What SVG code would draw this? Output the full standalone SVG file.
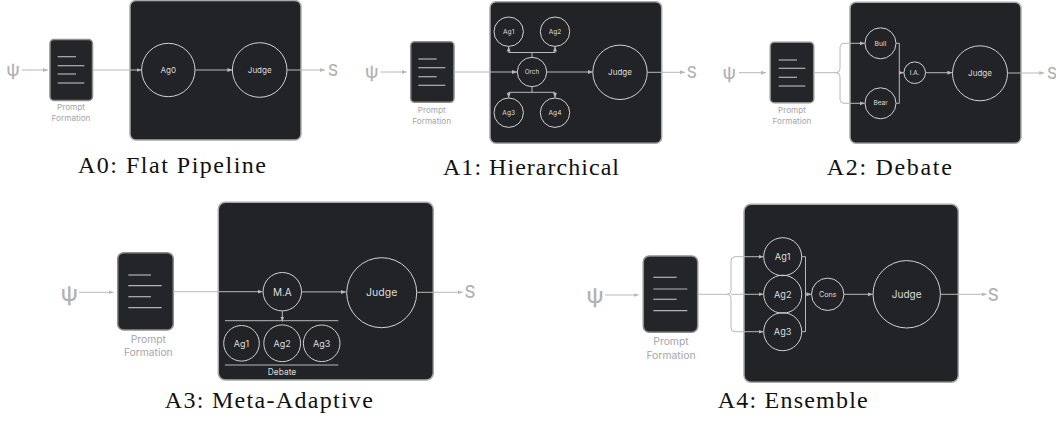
<svg xmlns="http://www.w3.org/2000/svg" width="1056" height="421" viewBox="0 0 1056 421">
<defs>
<style>
.panel{fill:#212326;stroke:#a9a9a9;stroke-width:1.5}
.pbox{fill:#232528;stroke:#8e8e8e;stroke-width:1.5}
.pline{stroke:#b3b3b3;stroke-width:1.2}
.node{fill:none;stroke:#d2d2d2;stroke-width:1}
.lbl{font-family:Inter,"Noto Sans",sans-serif;fill:#dedede;text-anchor:middle;dominant-baseline:central}
.pf{font-family:Inter,"Noto Sans",sans-serif;fill:#a6a6a6;text-anchor:middle;dominant-baseline:central}
.io{font-family:Inter,"Noto Sans",sans-serif;fill:#b2b2b2;text-anchor:middle;dominant-baseline:central;font-weight:500}
.conn{fill:none;stroke:#b8b8b8;stroke-width:1}
.arr{marker-end:url(#ah)}
.title{font-family:"Liberation Serif","Times New Roman",serif;fill:#111;text-anchor:middle;font-size:24px}
</style>
<marker id="ah" viewBox="0 0 10 10" refX="10" refY="5" markerWidth="5" markerHeight="5" markerUnits="userSpaceOnUse" orient="auto">
<path d="M0,1 L10,5 L0,9 z" fill="#b8b8b8"/>
</marker>
</defs>

<!-- ===== A0 ===== -->
<g id="a0">
<g id="a0-panel"><rect class="panel" x="130" y="0.5" width="171" height="139.5" rx="6"/></g>
<g id="a0-prompt">
<rect class="pbox" x="50" y="39.5" width="42.5" height="61" rx="4"/>
<line class="pline" x1="57.7" y1="56.7" x2="76" y2="56.7"/>
<line class="pline" x1="57.7" y1="65.7" x2="84.3" y2="65.7"/>
<line class="pline" x1="57.7" y1="74" x2="76" y2="74"/>
<line class="pline" x1="57.7" y1="83" x2="84.3" y2="83"/>
<text class="pf" x="71" y="107" font-size="8.2">Prompt</text>
<text class="pf" x="71" y="118" font-size="8.2">Formation</text>
</g>
<g id="a0-psi"><text class="io" x="13" y="70" font-size="17">ψ</text></g>
<g id="a0-ag0"><circle class="node" cx="168.3" cy="70" r="26.7"/><text class="lbl" x="168.3" y="70" font-size="8">Ag0</text></g>
<g id="a0-judge"><circle class="node" cx="259.7" cy="70" r="27.3"/><text class="lbl" x="259.7" y="70" font-size="8">Judge</text></g>
<g id="a0-s"><text class="io" x="333" y="70" font-size="15.5">S</text></g>
<g id="a0-connectors">
<path class="conn arr" d="M22,70 H48"/>
<path class="conn arr" d="M93,70 H141.6"/>
<path class="conn arr" d="M195,70 H232.4"/>
<path class="conn arr" d="M287,70 H325"/>
</g>
<text class="title" x="172" y="172.5" textLength="188" lengthAdjust="spacing">A0: Flat Pipeline</text>
</g>

<!-- ===== A1 ===== -->
<g id="a1">
<g id="a1-panel"><rect class="panel" x="490" y="1.7" width="171.7" height="141.6" rx="6"/></g>
<g id="a1-prompt">
<rect class="pbox" x="410.7" y="41.7" width="43.3" height="60.6" rx="4"/>
<line class="pline" x1="418.3" y1="59" x2="436.7" y2="59"/>
<line class="pline" x1="418.3" y1="67.7" x2="445.3" y2="67.7"/>
<line class="pline" x1="418.3" y1="76.7" x2="436.7" y2="76.7"/>
<line class="pline" x1="418.3" y1="85.3" x2="445.3" y2="85.3"/>
<text class="pf" x="431.7" y="110" font-size="8.2">Prompt</text>
<text class="pf" x="431.7" y="120.7" font-size="8.2">Formation</text>
</g>
<g id="a1-psi"><text class="io" x="371.7" y="72.3" font-size="17">ψ</text></g>
<g id="a1-orch"><circle class="node" cx="532" cy="72" r="14.7"/><text class="lbl" x="532" y="72" font-size="6.4">Orch</text></g>
<g id="a1-ag1"><circle class="node" cx="508.7" cy="31.7" r="14.7"/><text class="lbl" x="508.7" y="31.7" font-size="6.6">Ag1</text></g>
<g id="a1-ag2"><circle class="node" cx="555" cy="31.7" r="14.7"/><text class="lbl" x="555" y="31.7" font-size="6.6">Ag2</text></g>
<g id="a1-ag3"><circle class="node" cx="508.7" cy="112.7" r="14.7"/><text class="lbl" x="508.7" y="112.7" font-size="6.6">Ag3</text></g>
<g id="a1-ag4"><circle class="node" cx="555" cy="112.7" r="14.7"/><text class="lbl" x="555" y="112.7" font-size="6.6">Ag4</text></g>
<g id="a1-judge"><circle class="node" cx="620" cy="72.3" r="27.2"/><text class="lbl" x="620" y="72.3" font-size="8">Judge</text></g>
<g id="a1-s"><text class="io" x="691.7" y="72.3" font-size="15.5">S</text></g>
<g id="a1-connectors">
<path class="conn arr" d="M380.7,72 H406.7"/>
<path class="conn arr" d="M454,72 H517"/>
<path class="conn" d="M532,57.3 V52.5 M508.7,52.5 H555"/>
<path class="conn arr" d="M508.7,52.5 V46.6"/>
<path class="conn arr" d="M555,52.5 V46.6"/>
<path class="conn" d="M532,86.7 V92.3 M508.7,92.3 H555"/>
<path class="conn arr" d="M508.7,92.3 V97.8"/>
<path class="conn arr" d="M555,92.3 V97.8"/>
<path class="conn arr" d="M546.7,72 H592.8"/>
<path class="conn arr" d="M647.2,72.3 H685"/>
</g>
<text class="title" x="531" y="175" textLength="176" lengthAdjust="spacing">A1: Hierarchical</text>
</g>

<!-- ===== A2 ===== -->
<g id="a2">
<g id="a2-panel"><rect class="panel" x="850" y="2.3" width="171" height="141" rx="6"/></g>
<g id="a2-prompt">
<rect class="pbox" x="770.3" y="42.3" width="43.4" height="60.4" rx="4"/>
<line class="pline" x1="778.7" y1="60" x2="797" y2="60"/>
<line class="pline" x1="778.7" y1="68.3" x2="805.3" y2="68.3"/>
<line class="pline" x1="778.7" y1="77.3" x2="797" y2="77.3"/>
<line class="pline" x1="778.7" y1="86" x2="805.3" y2="86"/>
<text class="pf" x="792" y="110" font-size="8.2">Prompt</text>
<text class="pf" x="792" y="120.7" font-size="8.2">Formation</text>
</g>
<g id="a2-psi"><text class="io" x="729.3" y="72.7" font-size="17">ψ</text></g>
<g id="a2-bull"><circle class="node" cx="880.5" cy="43.3" r="15.5"/><text class="lbl" x="880.5" y="43.3" font-size="6.8">Bull</text></g>
<g id="a2-bear"><circle class="node" cx="880.5" cy="103.3" r="15.5"/><text class="lbl" x="880.5" y="103.3" font-size="6.5">Bear</text></g>
<g id="a2-ia"><circle class="node" cx="914.7" cy="72.7" r="10.8"/><text class="lbl" x="914.7" y="72.7" font-size="6.5">I.A.</text></g>
<g id="a2-judge"><circle class="node" cx="980" cy="73.3" r="27.5"/><text class="lbl" x="980" y="73.3" font-size="8">Judge</text></g>
<g id="a2-s"><text class="io" x="1052" y="73" font-size="15.5">S</text></g>
<g id="a2-connectors">
<path class="conn arr" d="M739,72.7 H766"/>
<path class="conn" d="M813.7,72.7 H836 Q840,72.7 840,68.7"/>
<path class="conn" d="M836,72.7 Q840,72.7 840,76.7"/>
<path class="conn arr" d="M840,68.7 V47.3 Q840,43.3 844,43.3 H864.8"/>
<path class="conn arr" d="M840,76.7 V99.3 Q840,103.3 844,103.3 H864.8"/>
<path class="conn" d="M896,43.3 H899.3 V103.3 H896"/>
<path class="conn arr" d="M899.3,72.7 H903.8"/>
<path class="conn arr" d="M925.5,72.7 H952.4"/>
<path class="conn arr" d="M1007.5,73 H1044.3"/>
</g>
<text class="title" x="889.3" y="175" textLength="125" lengthAdjust="spacing">A2: Debate</text>
</g>

<!-- ===== A3 ===== -->
<g id="a3">
<g id="a3-panel"><rect class="panel" x="218.3" y="202.3" width="215" height="177.7" rx="7"/></g>
<g id="a3-prompt">
<rect class="pbox" x="117.7" y="252.7" width="55.6" height="77.3" rx="6"/>
<line class="pline" x1="128.3" y1="275" x2="151" y2="275"/>
<line class="pline" x1="128.3" y1="285.7" x2="161.7" y2="285.7"/>
<line class="pline" x1="128.3" y1="296.7" x2="151" y2="296.7"/>
<line class="pline" x1="128.3" y1="307.7" x2="161.7" y2="307.7"/>
<text class="pf" x="148.3" y="339" font-size="10.3">Prompt</text>
<text class="pf" x="148.3" y="351.7" font-size="10.3">Formation</text>
</g>
<g id="a3-psi"><text class="io" x="69.3" y="292.7" font-size="22">ψ</text></g>
<g id="a3-ma"><circle class="node" cx="282.3" cy="291.7" r="19.2"/><text class="lbl" x="282.3" y="291.7" font-size="10">M.A</text></g>
<g id="a3-judge"><circle class="node" cx="381.7" cy="292.7" r="35"/><text class="lbl" x="381.7" y="292.7" font-size="10.5">Judge</text></g>
<g id="a3-ag1"><circle class="node" cx="241.5" cy="343.3" r="17.8"/><text class="lbl" x="241.5" y="343.3" font-size="9">Ag1</text></g>
<g id="a3-ag2"><circle class="node" cx="282.2" cy="343.3" r="18.4"/><text class="lbl" x="282.2" y="343.3" font-size="9">Ag2</text></g>
<g id="a3-ag3"><circle class="node" cx="321.7" cy="343.3" r="18.3"/><text class="lbl" x="321.7" y="343.3" font-size="9">Ag3</text></g>
<g id="a3-debate">
<line class="conn" x1="225" y1="320.7" x2="338.3" y2="320.7"/>
<line class="conn" x1="225" y1="365" x2="338.3" y2="365"/>
<text class="lbl" x="282" y="372.3" font-size="8.4">Debate</text>
</g>
<g id="a3-s"><text class="io" x="470" y="292" font-size="17">S</text></g>
<g id="a3-connectors">
<path class="conn arr" d="M79,292.3 H113.5"/>
<path class="conn arr" d="M173.3,291.7 H262.6"/>
<path class="conn arr" d="M301.5,291.9 H346"/>
<path class="conn arr" d="M282.3,310.9 V321.5"/>
<path class="conn arr" d="M416.7,292.3 H462.7"/>
</g>
<text class="title" x="268.8" y="408.3" textLength="208" lengthAdjust="spacing">A3: Meta-Adaptive</text>
</g>

<!-- ===== A4 ===== -->
<g id="a4">
<g id="a4-panel"><rect class="panel" x="744" y="204.3" width="214.3" height="178" rx="7"/></g>
<g id="a4-prompt">
<rect class="pbox" x="643.3" y="256" width="54.4" height="76.3" rx="6"/>
<line class="pline" x1="653.3" y1="277.3" x2="676.7" y2="277.3"/>
<line class="pline" x1="653.3" y1="289" x2="687.3" y2="289"/>
<line class="pline" x1="653.3" y1="299.3" x2="676.7" y2="299.3"/>
<line class="pline" x1="653.3" y1="310.7" x2="687.3" y2="310.7"/>
<text class="pf" x="671" y="341.7" font-size="10.4">Prompt</text>
<text class="pf" x="671" y="355" font-size="10.4">Formation</text>
</g>
<g id="a4-psi"><text class="io" x="595" y="295" font-size="22">ψ</text></g>
<g id="a4-ag1"><circle class="node" cx="782.7" cy="256.7" r="19"/><text class="lbl" x="782.7" y="256.7" font-size="9.2">Ag1</text></g>
<g id="a4-ag2"><circle class="node" cx="782.7" cy="294.2" r="19"/><text class="lbl" x="782.7" y="294.2" font-size="9.2">Ag2</text></g>
<g id="a4-ag3"><circle class="node" cx="782.7" cy="331.7" r="19"/><text class="lbl" x="782.7" y="331.7" font-size="9.2">Ag3</text></g>
<g id="a4-cons"><circle class="node" cx="827.7" cy="294.3" r="16.2"/><text class="lbl" x="827.7" y="294.3" font-size="7.2">Cons</text></g>
<g id="a4-judge"><circle class="node" cx="906.7" cy="294.3" r="33.7"/><text class="lbl" x="906.7" y="294.3" font-size="10">Judge</text></g>
<g id="a4-s"><text class="io" x="993.3" y="295" font-size="17">S</text></g>
<g id="a4-connectors">
<path class="conn arr" d="M605,295 H638.6"/>
<path class="conn" d="M697.7,294.3 H727 Q731,294.3 731,290.3"/>
<path class="conn" d="M727,294.3 Q731,294.3 731,298.3"/>
<path class="conn arr" d="M731,290.3 V260.7 Q731,256.7 735,256.7 H763.5"/>
<path class="conn arr" d="M731,294.3 H763.5"/>
<path class="conn arr" d="M731,298.3 V327.7 Q731,331.7 735,331.7 H763.5"/>
<path class="conn" d="M801.7,256.7 H805.5 V331.7 H801.7"/>
<path class="conn arr" d="M805.5,294.3 H811.4"/>
<path class="conn arr" d="M844,294.3 H872.8"/>
<path class="conn arr" d="M940.4,294.3 H986.7"/>
</g>
<text class="title" x="792.7" y="408.3" textLength="150" lengthAdjust="spacing">A4: Ensemble</text>
</g>
</svg>
